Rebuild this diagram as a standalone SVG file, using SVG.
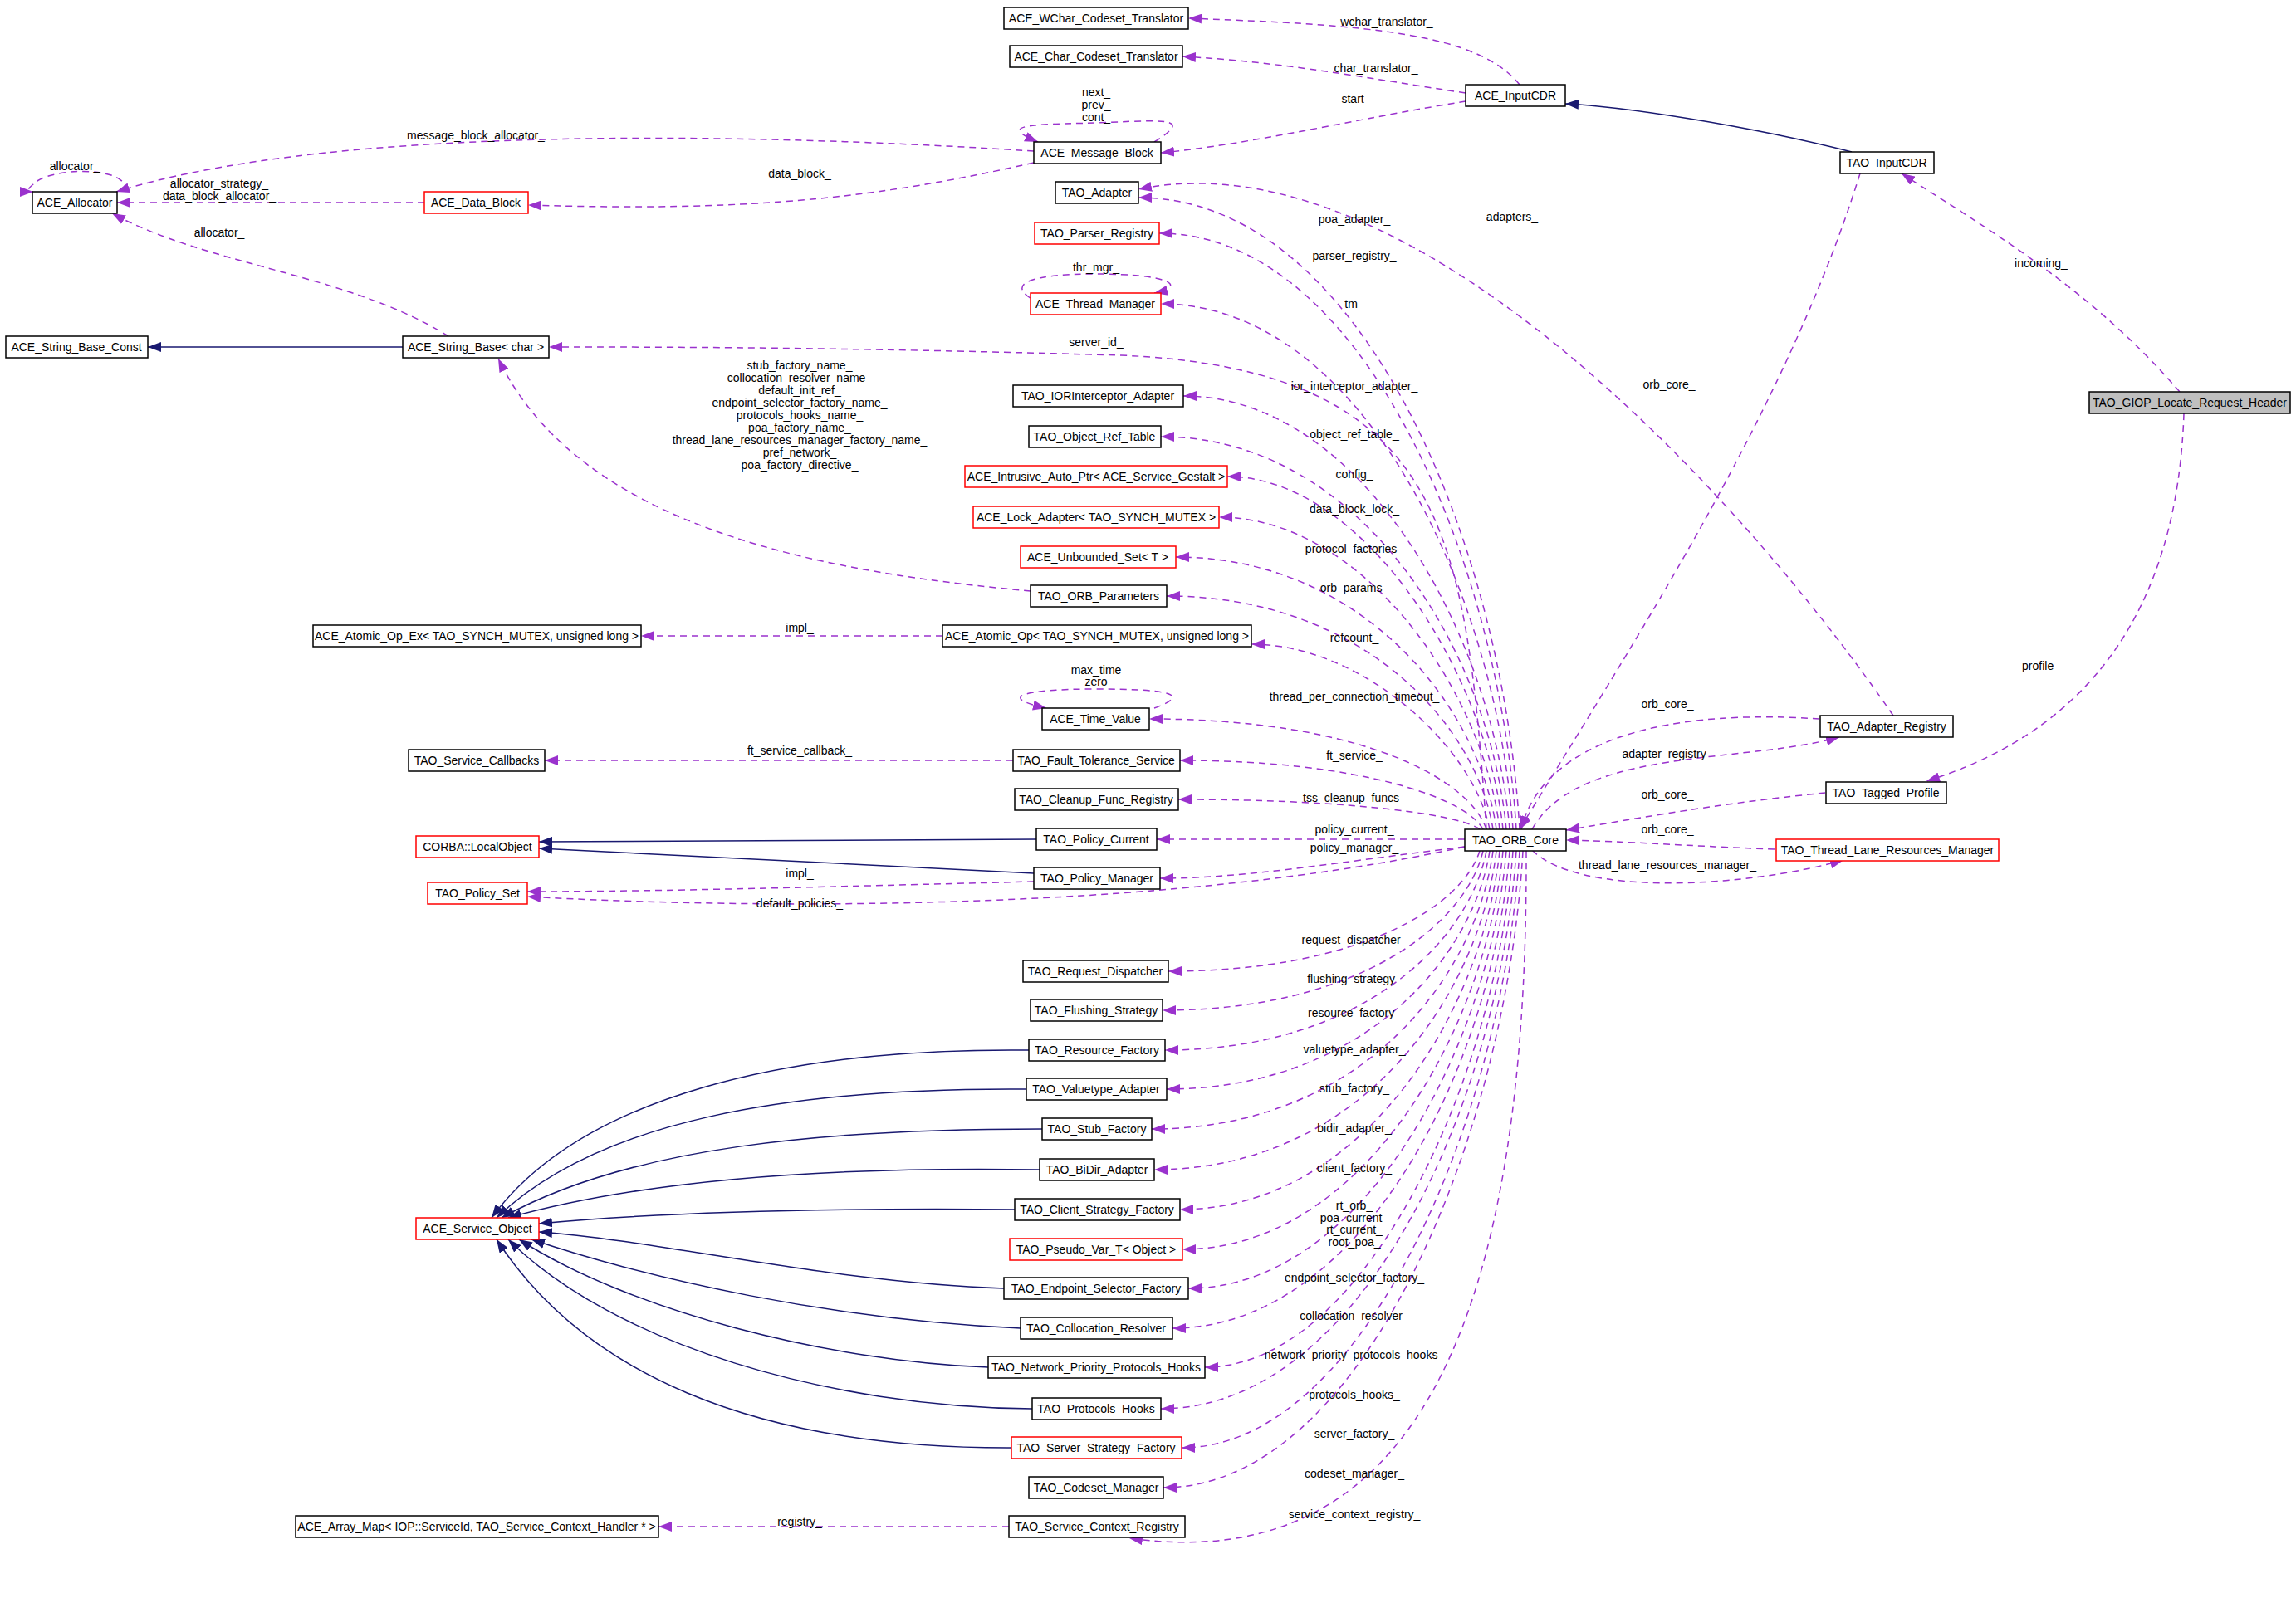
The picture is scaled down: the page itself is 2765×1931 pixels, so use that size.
<svg xmlns="http://www.w3.org/2000/svg" width="2765" height="1931" viewBox="0 0 2765 1931">
<defs>
<marker id="ap" markerUnits="userSpaceOnUse" markerWidth="18" markerHeight="12" refX="16" refY="6" orient="auto"><path d="M0,0 L16,6 L0,12 z" fill="#9a32cd"/></marker>
<marker id="an" markerUnits="userSpaceOnUse" markerWidth="18" markerHeight="12" refX="16" refY="6" orient="auto"><path d="M0,0 L16,6 L0,12 z" fill="#191970"/></marker>
<style>
.n rect{fill:#fff;stroke:#000;stroke-width:1.5}
.r rect{stroke:#f00}
.g rect{fill:#bfbfbf}
text{font-family:"Liberation Sans",Arial,sans-serif;font-size:14px;fill:#000}
.n text{text-anchor:middle}
.l{text-anchor:middle}
.e path{fill:none}
.m{stroke:#9a32cd;stroke-width:1.5;stroke-dasharray:8,6;marker-end:url(#ap)}
.i{stroke:#191970;stroke-width:1.5;marker-end:url(#an)}
</style>
</defs>
<rect width="2765" height="1931" fill="#fff"/>
<g id="edges" class="e">
<path class="m" d="M1830,102 C1780,40 1650,30 1431,22"/>
<path class="m" d="M1765,112 C1650,95 1550,75 1424,68"/>
<path class="m" d="M1765,122 C1650,140 1500,175 1398,184"/>
<path class="m" d="M1390,171 C1440,140 1400,145 1320,148 C1240,150 1200,150 1250,171"/>
<path class="m" d="M1245,182 C900,160 400,150 140,231"/>
<path class="m" d="M1245,196 C1050,240 900,255 636,247"/>
<path class="m" d="M150,231 C160,200 60,200 40,222 C30,230 35,231 40,231"/>
<path class="m" d="M511,244 L141,244"/>
<path class="m" d="M540,405 C420,330 250,320 135,257"/>
<path class="m" d="M1241,712 C1000,690 700,640 600,432"/>
<path class="i" d="M2230,183 C2100,150 1950,128 1885,125"/>
<path class="i" d="M485,418 L178,418"/>
<path class="m" d="M1253,366 C1200,340 1250,330 1320,330 C1410,330 1430,345 1390,353"/>
<path class="m" d="M1390,853 C1440,835 1400,830 1320,830 C1230,830 1200,840 1260,853"/>
<path class="m" d="M1135,766 L772,766"/>
<path class="m" d="M1220,916 L656,916"/>
<path class="m" d="M1215,1839 L793,1839"/>
<path class="i" d="M1248,1011 L649,1014"/>
<path class="i" d="M1245,1052 C1000,1040 800,1030 649,1022"/>
<path class="m" d="M1245,1062 C1000,1068 800,1074 635,1074"/>
<path class="m" d="M1764,1020 C1400,1100 900,1095 635,1080"/>
<path class="m" d="M2240,209 C2150,500 1950,800 1830,999" stroke-dasharray="14,8"/>
<path class="m" d="M2625,472 C2520,350 2400,280 2290,209" stroke-dasharray="14,8"/>
<path class="m" d="M2630,498 C2620,800 2450,900 2320,941" stroke-dasharray="14,8"/>
<path class="m" d="M2280,862 C2100,600 1700,160 1371,228"/>
<path class="m" d="M2191,866 C1950,850 1850,920 1832,999"/>
<path class="m" d="M1845,999 C1900,900 2100,920 2215,888"/>
<path class="m" d="M2198,955 C2050,970 1950,990 1886,1000"/>
<path class="m" d="M2137,1023 C2050,1020 1950,1013 1886,1012"/>
<path class="m" d="M1845,1024 C1900,1080 2100,1070 2220,1036"/>
<path class="m" d="M1790,999 C1765,640 1740,445 1350,428 C1000,418 800,418 661,418"/>
<path class="m" d="M1830,999 C1810,657 1640,238 1371,238"/>
<path class="m" d="M1826,999 C1806,676 1640,281 1396,281"/>
<path class="m" d="M1822,999 C1802,714 1640,366 1398,366"/>
<path class="m" d="M1818,999 C1798,764 1640,477 1425,477"/>
<path class="m" d="M1814,999 C1794,786 1640,526 1398,526"/>
<path class="m" d="M1810,999 C1790,808 1640,574 1478,574"/>
<path class="m" d="M1806,999 C1786,830 1640,623 1468,623"/>
<path class="m" d="M1802,999 C1782,851 1640,671 1416,671"/>
<path class="m" d="M1798,999 C1778,873 1640,718 1405,718"/>
<path class="m" d="M1794,999 C1774,899 1640,776 1507,776"/>
<path class="m" d="M1790,999 C1770,939 1640,866 1384,866"/>
<path class="m" d="M1786,999 C1766,962 1640,916 1421,916"/>
<path class="m" d="M1782,999 C1762,983 1640,963 1419,963"/>
<path class="m" d="M1764,1011 L1393,1011"/>
<path class="m" d="M1764,1020 C1600,1040 1500,1058 1397,1058"/>
<path class="m" d="M1782,1025 C1762,1090 1640,1170 1407,1170"/>
<path class="m" d="M1786,1025 C1766,1111 1640,1217 1400,1217"/>
<path class="m" d="M1790,1025 C1770,1133 1640,1265 1403,1265"/>
<path class="m" d="M1794,1025 C1774,1154 1640,1312 1405,1312"/>
<path class="m" d="M1798,1025 C1778,1176 1640,1360 1387,1360"/>
<path class="m" d="M1802,1025 C1782,1198 1640,1409 1390,1409"/>
<path class="m" d="M1806,1025 C1786,1219 1640,1457 1421,1457"/>
<path class="m" d="M1810,1025 C1790,1241 1640,1505 1424,1505"/>
<path class="m" d="M1814,1025 C1794,1262 1640,1552 1431,1552"/>
<path class="m" d="M1818,1025 C1798,1284 1640,1600 1412,1600"/>
<path class="m" d="M1822,1025 C1802,1305 1640,1647 1451,1647"/>
<path class="m" d="M1826,1025 C1806,1327 1640,1697 1398,1697"/>
<path class="m" d="M1830,1025 C1810,1349 1640,1744 1423,1744"/>
<path class="m" d="M1834,1025 C1814,1370 1640,1792 1401,1792"/>
<path class="m" d="M1838,1025 C1840,1600 1700,1900 1360,1853"/>
<path class="i" d="M1239,1265 C950,1262 700,1320 592,1467"/>
<path class="i" d="M1236,1312 C950,1310 720,1350 598,1467"/>
<path class="i" d="M1255,1360 C1000,1360 760,1380 604,1467"/>
<path class="i" d="M1252,1409 C1000,1405 780,1420 612,1467"/>
<path class="i" d="M1222,1457 C1000,1455 800,1460 649,1474"/>
<path class="i" d="M1209,1552 C1000,1545 800,1495 649,1484"/>
<path class="i" d="M1229,1600 C1000,1590 780,1540 640,1493"/>
<path class="i" d="M1190,1647 C1000,1640 760,1580 625,1493"/>
<path class="i" d="M1243,1697 C1000,1695 740,1620 612,1493"/>
<path class="i" d="M1218,1744 C900,1745 700,1650 598,1493"/>
</g>
<g id="labels">
<text class="l" x="1670" y="31">wchar_translator_</text>
<text class="l" x="1657" y="87">char_translator_</text>
<text class="l" x="1633" y="124">start_</text>
<text class="l" x="1320" y="116">next_</text>
<text class="l" x="1320" y="131">prev_</text>
<text class="l" x="1320" y="146">cont_</text>
<text class="l" x="573" y="168">message_block_allocator_</text>
<text class="l" x="90" y="205">allocator_</text>
<text class="l" x="264" y="226">allocator_strategy_</text>
<text class="l" x="264" y="241">data_block_allocator_</text>
<text class="l" x="963" y="214">data_block_</text>
<text class="l" x="264" y="285">allocator_</text>
<text class="l" x="1631" y="269">poa_adapter_</text>
<text class="l" x="1821" y="266">adapters_</text>
<text class="l" x="1631" y="313">parser_registry_</text>
<text class="l" x="1320" y="327">thr_mgr_</text>
<text class="l" x="1631" y="371">tm_</text>
<text class="l" x="1320" y="417">server_id_</text>
<text class="l" x="2458" y="322">incoming_</text>
<text class="l" x="2010" y="468">orb_core_</text>
<text class="l" x="1631" y="470">ior_interceptor_adapter_</text>
<text class="l" x="963" y="445">stub_factory_name_</text>
<text class="l" x="963" y="460">collocation_resolver_name_</text>
<text class="l" x="963" y="475">default_init_ref_</text>
<text class="l" x="963" y="490">endpoint_selector_factory_name_</text>
<text class="l" x="963" y="505">protocols_hooks_name_</text>
<text class="l" x="963" y="520">poa_factory_name_</text>
<text class="l" x="963" y="535">thread_lane_resources_manager_factory_name_</text>
<text class="l" x="963" y="550">pref_network_</text>
<text class="l" x="963" y="565">poa_factory_directive_</text>
<text class="l" x="1631" y="528">object_ref_table_</text>
<text class="l" x="1631" y="576">config_</text>
<text class="l" x="1631" y="618">data_block_lock_</text>
<text class="l" x="1631" y="666">protocol_factories_</text>
<text class="l" x="1631" y="713">orb_params_</text>
<text class="l" x="963" y="761">impl_</text>
<text class="l" x="1631" y="773">refcount_</text>
<text class="l" x="1320" y="812">max_time</text>
<text class="l" x="1320" y="826">zero</text>
<text class="l" x="1631" y="844">thread_per_connection_timeout_</text>
<text class="l" x="2008" y="853">orb_core_</text>
<text class="l" x="2008" y="913">adapter_registry_</text>
<text class="l" x="963" y="909">ft_service_callback_</text>
<text class="l" x="1631" y="915">ft_service_</text>
<text class="l" x="2458" y="807">profile_</text>
<text class="l" x="1631" y="966">tss_cleanup_funcs_</text>
<text class="l" x="2008" y="962">orb_core_</text>
<text class="l" x="1631" y="1004">policy_current_</text>
<text class="l" x="2008" y="1004">orb_core_</text>
<text class="l" x="1631" y="1026">policy_manager_</text>
<text class="l" x="963" y="1057">impl_</text>
<text class="l" x="2008" y="1047">thread_lane_resources_manager_</text>
<text class="l" x="963" y="1093">default_policies_</text>
<text class="l" x="1631" y="1137">request_dispatcher_</text>
<text class="l" x="1631" y="1184">flushing_strategy_</text>
<text class="l" x="1631" y="1225">resource_factory_</text>
<text class="l" x="1631" y="1269">valuetype_adapter_</text>
<text class="l" x="1631" y="1316">stub_factory_</text>
<text class="l" x="1631" y="1364">bidir_adapter_</text>
<text class="l" x="1631" y="1412">client_factory_</text>
<text class="l" x="1631" y="1457">rt_orb_</text>
<text class="l" x="1631" y="1472">poa_current_</text>
<text class="l" x="1631" y="1486">rt_current_</text>
<text class="l" x="1631" y="1501">root_poa_</text>
<text class="l" x="1631" y="1544">endpoint_selector_factory_</text>
<text class="l" x="1631" y="1590">collocation_resolver_</text>
<text class="l" x="1631" y="1637">network_priority_protocols_hooks_</text>
<text class="l" x="1631" y="1685">protocols_hooks_</text>
<text class="l" x="1631" y="1732">server_factory_</text>
<text class="l" x="1631" y="1780">codeset_manager_</text>
<text class="l" x="1631" y="1829">service_context_registry_</text>
<text class="l" x="963" y="1838">registry_</text>
</g>
<g id="n1" class="n"><rect x="1209" y="9" width="222" height="26"/><text x="1320" y="27">ACE_WChar_Codeset_Translator</text></g>
<g id="n2" class="n"><rect x="1216" y="55" width="208" height="26"/><text x="1320" y="73">ACE_Char_Codeset_Translator</text></g>
<g id="n3" class="n"><rect x="1765" y="102" width="120" height="26"/><text x="1825" y="120">ACE_InputCDR</text></g>
<g id="n4" class="n"><rect x="1245" y="171" width="153" height="26"/><text x="1321" y="189">ACE_Message_Block</text></g>
<g id="n5" class="n"><rect x="2216" y="183" width="113" height="26"/><text x="2272" y="201">TAO_InputCDR</text></g>
<g id="n6" class="n"><rect x="1271" y="219" width="100" height="26"/><text x="1321" y="237">TAO_Adapter</text></g>
<g id="n7" class="n"><rect x="39" y="231" width="102" height="26"/><text x="90" y="249">ACE_Allocator</text></g>
<g id="n8" class="n r"><rect x="511" y="231" width="125" height="26"/><text x="573" y="249">ACE_Data_Block</text></g>
<g id="n9" class="n r"><rect x="1246" y="268" width="150" height="26"/><text x="1321" y="286">TAO_Parser_Registry</text></g>
<g id="n10" class="n r"><rect x="1241" y="353" width="157" height="26"/><text x="1319" y="371">ACE_Thread_Manager</text></g>
<g id="n11" class="n"><rect x="7" y="405" width="171" height="26"/><text x="92" y="423">ACE_String_Base_Const</text></g>
<g id="n12" class="n"><rect x="485" y="405" width="176" height="26"/><text x="573" y="423">ACE_String_Base&lt; char &gt;</text></g>
<g id="n13" class="n"><rect x="1220" y="464" width="205" height="26"/><text x="1322" y="482">TAO_IORInterceptor_Adapter</text></g>
<g id="n14" class="n g"><rect x="2516" y="472" width="242" height="26"/><text x="2637" y="490">TAO_GIOP_Locate_Request_Header</text></g>
<g id="n15" class="n"><rect x="1239" y="513" width="159" height="26"/><text x="1318" y="531">TAO_Object_Ref_Table</text></g>
<g id="n16" class="n r"><rect x="1162" y="561" width="316" height="26"/><text x="1320" y="579">ACE_Intrusive_Auto_Ptr&lt; ACE_Service_Gestalt &gt;</text></g>
<g id="n17" class="n r"><rect x="1172" y="610" width="296" height="26"/><text x="1320" y="628">ACE_Lock_Adapter&lt; TAO_SYNCH_MUTEX &gt;</text></g>
<g id="n18" class="n r"><rect x="1229" y="658" width="187" height="26"/><text x="1322" y="676">ACE_Unbounded_Set&lt; T &gt;</text></g>
<g id="n19" class="n"><rect x="1241" y="705" width="164" height="26"/><text x="1323" y="723">TAO_ORB_Parameters</text></g>
<g id="n20" class="n"><rect x="377" y="753" width="395" height="26"/><text x="574" y="771">ACE_Atomic_Op_Ex&lt; TAO_SYNCH_MUTEX, unsigned long &gt;</text></g>
<g id="n21" class="n"><rect x="1135" y="753" width="372" height="26"/><text x="1321" y="771">ACE_Atomic_Op&lt; TAO_SYNCH_MUTEX, unsigned long &gt;</text></g>
<g id="n22" class="n"><rect x="1255" y="853" width="129" height="26"/><text x="1319" y="871">ACE_Time_Value</text></g>
<g id="n23" class="n"><rect x="2192" y="862" width="160" height="26"/><text x="2272" y="880">TAO_Adapter_Registry</text></g>
<g id="n24" class="n"><rect x="492" y="903" width="164" height="26"/><text x="574" y="921">TAO_Service_Callbacks</text></g>
<g id="n25" class="n"><rect x="1220" y="903" width="201" height="26"/><text x="1320" y="921">TAO_Fault_Tolerance_Service</text></g>
<g id="n26" class="n"><rect x="2199" y="942" width="145" height="26"/><text x="2271" y="960">TAO_Tagged_Profile</text></g>
<g id="n27" class="n"><rect x="1222" y="950" width="197" height="26"/><text x="1320" y="968">TAO_Cleanup_Func_Registry</text></g>
<g id="n28" class="n"><rect x="1764" y="999" width="122" height="26"/><text x="1825" y="1017">TAO_ORB_Core</text></g>
<g id="n29" class="n"><rect x="1248" y="998" width="145" height="26"/><text x="1320" y="1016">TAO_Policy_Current</text></g>
<g id="n30" class="n r"><rect x="501" y="1007" width="148" height="26"/><text x="575" y="1025">CORBA::LocalObject</text></g>
<g id="n31" class="n r"><rect x="2139" y="1011" width="268" height="26"/><text x="2273" y="1029">TAO_Thread_Lane_Resources_Manager</text></g>
<g id="n32" class="n"><rect x="1245" y="1045" width="152" height="26"/><text x="1321" y="1063">TAO_Policy_Manager</text></g>
<g id="n33" class="n r"><rect x="515" y="1063" width="120" height="26"/><text x="575" y="1081">TAO_Policy_Set</text></g>
<g id="n34" class="n"><rect x="1232" y="1157" width="175" height="26"/><text x="1319" y="1175">TAO_Request_Dispatcher</text></g>
<g id="n35" class="n"><rect x="1241" y="1204" width="159" height="26"/><text x="1320" y="1222">TAO_Flushing_Strategy</text></g>
<g id="n36" class="n"><rect x="1239" y="1252" width="164" height="26"/><text x="1321" y="1270">TAO_Resource_Factory</text></g>
<g id="n37" class="n"><rect x="1236" y="1299" width="169" height="26"/><text x="1320" y="1317">TAO_Valuetype_Adapter</text></g>
<g id="n38" class="n"><rect x="1255" y="1347" width="132" height="26"/><text x="1321" y="1365">TAO_Stub_Factory</text></g>
<g id="n39" class="n"><rect x="1252" y="1396" width="138" height="26"/><text x="1321" y="1414">TAO_BiDir_Adapter</text></g>
<g id="n40" class="n"><rect x="1222" y="1444" width="199" height="26"/><text x="1321" y="1462">TAO_Client_Strategy_Factory</text></g>
<g id="n41" class="n r"><rect x="501" y="1467" width="148" height="26"/><text x="575" y="1485">ACE_Service_Object</text></g>
<g id="n42" class="n r"><rect x="1216" y="1492" width="208" height="26"/><text x="1320" y="1510">TAO_Pseudo_Var_T&lt; Object &gt;</text></g>
<g id="n43" class="n"><rect x="1209" y="1539" width="222" height="26"/><text x="1320" y="1557">TAO_Endpoint_Selector_Factory</text></g>
<g id="n44" class="n"><rect x="1229" y="1587" width="183" height="26"/><text x="1320" y="1605">TAO_Collocation_Resolver</text></g>
<g id="n45" class="n"><rect x="1190" y="1634" width="261" height="26"/><text x="1320" y="1652">TAO_Network_Priority_Protocols_Hooks</text></g>
<g id="n46" class="n"><rect x="1243" y="1684" width="155" height="26"/><text x="1320" y="1702">TAO_Protocols_Hooks</text></g>
<g id="n47" class="n r"><rect x="1218" y="1731" width="205" height="26"/><text x="1320" y="1749">TAO_Server_Strategy_Factory</text></g>
<g id="n48" class="n"><rect x="1239" y="1779" width="162" height="26"/><text x="1320" y="1797">TAO_Codeset_Manager</text></g>
<g id="n49" class="n"><rect x="356" y="1826" width="437" height="26"/><text x="574" y="1844">ACE_Array_Map&lt; IOP::ServiceId, TAO_Service_Context_Handler * &gt;</text></g>
<g id="n50" class="n"><rect x="1215" y="1826" width="212" height="26"/><text x="1321" y="1844">TAO_Service_Context_Registry</text></g>
</svg>
